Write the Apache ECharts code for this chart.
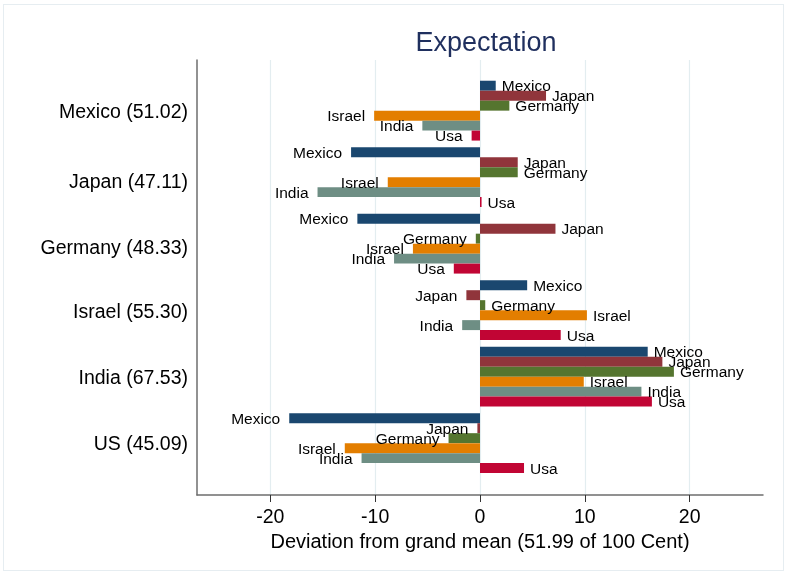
<!DOCTYPE html>
<html>
<head>
<meta charset="utf-8">
<script src="https://cdn.jsdelivr.net/npm/echarts@6/dist/echarts.min.js"></script>
<style>
  html, body { margin: 0; padding: 0; background: #fff; }
  #wrap { position: relative; width: 785px; height: 572px; }
  #chart { position: absolute; left: 0; top: 0; width: 785px; height: 572px; }
  #frame { position: absolute; left: 3px; top: 4px; width: 779px; height: 565px;
           border: 1px solid #e6edf1; pointer-events: none; }
</style>
</head>
<body>
<div id="wrap"><div id="chart"></div><div id="frame"></div></div>
<script>
// ---- data ----
const categories = ['Mexico (51.02)', 'Japan (47.11)', 'Germany (48.33)', 'Israel (55.30)', 'India (67.53)', 'US (45.09)'];
const seriesNames = ['Mexico', 'Japan', 'Germany', 'Israel', 'India', 'Usa'];
const mexicoVals  = [1.5, -12.3, -11.7, 4.5, 16.0, -18.2];
const japanVals   = [6.3, 3.6, 7.2, -1.3, 17.4, -0.25];
const germanyVals = [2.8, 3.6, -0.4, 0.5, 18.5, -3.0];
const israelVals  = [-10.1, -8.8, -6.4, 10.2, 9.9, -12.9];
const indiaVals   = [-5.5, -15.5, -8.2, -1.7, 15.4, -11.3];
const usaVals     = [-0.8, 0.15, -2.5, 7.7, 16.4, 4.2];
const xTicks = [-20, -10, 0, 10, 20];

const allVals = [mexicoVals, japanVals, germanyVals, israelVals, indiaVals, usaVals];
const colors = ['#1a476f', '#90353b', '#55752f', '#e37e00', '#6e8e84', '#c10534'];
const FONT = '"Liberation Sans", Arial, sans-serif';
// small per-label vertical nudges (style only)
const catPadTop = [4, 10, 10, 4, 3, 3];

const chart = echarts.init(document.getElementById('chart'), null, { renderer: 'canvas' });

const series = seriesNames.map((name, i) => ({
  name: name,
  type: 'bar',
  xAxisIndex: 0,
  yAxisIndex: 0,
  barGap: '0%',
  barCategoryGap: '10%',
  itemStyle: { color: colors[i] },
  label: {
    show: true,
    formatter: '{a}',
    fontFamily: FONT,
    fontSize: 15.5,
    color: '#000'
  },
  data: allVals[i].map(v => ({
    value: v,
    label: { position: v < 0 ? 'left' : 'right', distance: v < 0 ? 9 : 6, offset: [0, 1.5] }
  }))
}));

const richStyles = {};
catPadTop.forEach((p, k) => {
  richStyles['c' + k] = { fontFamily: FONT, fontSize: 19.5, color: '#000', padding: [p, 0, 0, 0] };
});

const option = {
  animation: false,
  backgroundColor: '#fff',
  title: {
    text: 'Expectation',
    left: 481,
    top: 25,
    textAlign: 'center',
    textStyle: { fontFamily: FONT, fontSize: 27, fontWeight: 'normal', color: '#1f2f5e' }
  },
  grid: [
    { left: 197, right: 22, top: 77.4, bottom: 95.6 },
    { left: 197, right: 22, top: 60, bottom: 77 }
  ],
  xAxis: [
    { type: 'value', gridIndex: 0, min: -27, max: 27, show: false, splitLine: { show: false } },
    {
      type: 'value', gridIndex: 1, min: -27, max: 27,
      axisLine: { show: true, onZero: false, lineStyle: { color: '#6e6e6e', width: 1.5 } },
      axisTick: { show: true, length: 7, customValues: xTicks, lineStyle: { color: '#333', width: 1 } },
      axisLabel: { customValues: xTicks, fontFamily: FONT, fontSize: 19.5, color: '#000', margin: 13 },
      splitLine: { show: true, lineStyle: { color: '#e3edf0', width: 1.2 } },
      name: 'Deviation from grand mean (51.99 of 100 Cent)',
      nameLocation: 'middle',
      nameGap: 30,
      nameTextStyle: { fontFamily: FONT, fontSize: 20, color: '#000', verticalAlign: 'top' }
    }
  ],
  yAxis: [
    {
      type: 'category', gridIndex: 0, inverse: true,
      data: categories,
      axisLine: { show: false }, axisTick: { show: false },
      axisLabel: {
        fontFamily: FONT, fontSize: 19.5, color: '#000', margin: 9,
        formatter: (v, k) => '{c' + k + '|' + v + '}',
        rich: richStyles
      }
    },
    {
      type: 'value', gridIndex: 1, min: 0, max: 1,
      axisLine: { show: true, onZero: false, lineStyle: { color: '#6e6e6e', width: 1.5 } },
      axisTick: { show: false }, axisLabel: { show: false }, splitLine: { show: false }
    }
  ],
  series: series
};

chart.setOption(option);
</script>
</body>
</html>
